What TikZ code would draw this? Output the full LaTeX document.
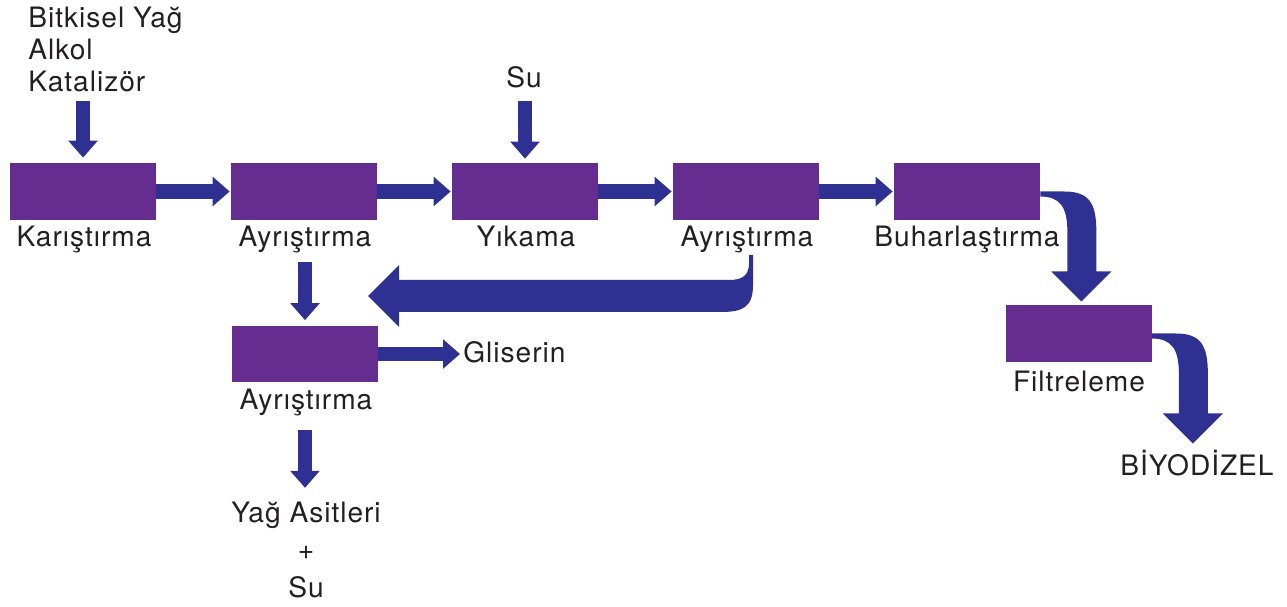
\documentclass[tikz,border=0pt]{standalone}
\usepackage{fontspec}
\setmainfont{TeX Gyre Heros}[LetterSpace=3.5]
\usetikzlibrary{arrows.meta}
\usetikzlibrary{calc}

\definecolor{boxpurple}{RGB}{102,45,145}
\definecolor{flowblue}{RGB}{46,49,146}
\definecolor{labelgray}{RGB}{35,31,32}

\tikzset{
  procbox/.style = {fill = boxpurple, minimum width = 2.92cm,
    minimum height = 1.14cm, inner sep = 0pt},
  lbl/.style = {anchor = base, inner sep = 0pt, text = labelgray,
    font = \fontsize{16}{19}\selectfont},
  flow/.style = {flowblue, line width = .29cm,
    -{Triangle[length = .34cm, width = .57cm]}},
  bendarrow/.pic = {
    \fill[flowblue] (0, 0) -- (24, 0) .. controls (49, 0) and (56, 12) .. (56, 40)
      -- (56, 80) -- (71, 80) -- (41, 110) -- (11, 80) -- (27, 80) -- (27, 40)
      .. controls (27, 16) and (20, 5) .. (0, 5) -- cycle;
  }
}

\begin{document}
\begin{tikzpicture}[x = .02cm, y = -.02cm]
  \useasboundingbox (0, 0) rectangle (1287, 607);

  % process boxes
  \node[procbox] (kar) at (83, 191.5) {};
  \node[procbox] (ayr1) at (304, 191.5) {};
  \node[procbox] (yik) at (525, 191.5) {};
  \node[procbox] (ayr2) at (746, 191.5) {};
  \node[procbox] (buh) at (967, 191.5) {};
  \node[procbox] (ayr3) at (305, 354) {};
  \node[procbox] (fil) at (1078.5, 333.5) {};

  % labels
  \node[lbl, anchor = base west] (in1) at (28, 28) {Bitkisel Yağ};
  \node[lbl, anchor = base west] (in2) at (28, 60) {Alkol};
  \node[lbl, anchor = base west] (in3) at (28, 92) {Katalizör};
  \node[lbl] (su1) at (524, 88) {Su};
  \node[lbl] (karlbl) at (84, 247) {Karıştırma};
  \node[lbl] (ayr1lbl) at (305, 247) {Ayrıştırma};
  \node[lbl] (yiklbl) at (526, 247) {Yıkama};
  \node[lbl] (ayr2lbl) at (747, 247) {Ayrıştırma};
  \node[lbl] (buhlbl) at (967, 247) {Buharlaştırma};
  \node[lbl, anchor = base west] (glis) at (463, 363) {Gliserin};
  \node[lbl] (ayr3lbl) at (306, 410) {Ayrıştırma};
  \node[lbl] (fillbl) at (1079, 392) {Filtreleme};
  \node[lbl] (bio) at (1197, 475) {BİYODİZEL};
  \node[lbl] (yag) at (306, 522) {Yağ Asitleri};
  \node[lbl] (plus) at (306, 559) {+};
  \node[lbl] (su2) at (306, 597) {Su};

  % straight arrows
  \coordinate (feed) at (83, 101);
  \coordinate (water) at (525, 101);
  \draw[flow] (feed) -- ($(kar.north) + (0, -5)$);
  \draw[flow] (water) -- ($(yik.north) + (0, -4)$);
  \draw[flow] (kar.east) -- ($(ayr1.west) + (-1, 0)$);
  \draw[flow] (ayr1.east) -- ($(yik.west) + (-1, 0)$);
  \draw[flow] (yik.east) -- ($(ayr2.west) + (-1, 0)$);
  \draw[flow] (ayr2.east) -- ($(buh.west) + (-1, 0)$);
  \draw[flow] ($(ayr3.north) + (0, -63)$) -- ($(ayr3.north) + (0, -5)$);
  \draw[flow] (ayr3.east) -- ($(ayr3.east -| glis.west) + (-3, 0)$);
  \draw[flow] ($(ayr3.south) + (0, 47)$) -- ($(ayr3.south) + (0, 105)$);

  % return arrow back to the lower separation
  \coordinate (rettail) at (751, 255);
  \coordinate (rethead) at (368, 296);
  \fill[flowblue] ($(rettail) + (-2, 0)$) -- ($(rettail) + (2, 0)$)
    -- ($(rettail) + (2, 30)$)
    .. controls ($(rettail) + (2, 52)$) and ($(rettail) + (-8, 57)$) .. ($(rettail) + (-30, 57)$)
    -- ($(rethead) + (31, 16)$) -- ($(rethead) + (31, 31)$) -- (rethead)
    -- ($(rethead) + (31, -31)$) -- ($(rethead) + (31, -16)$)
    -- ($(rettail) + (-22, 25)$)
    .. controls ($(rettail) + (-8, 25)$) and ($(rettail) + (-2, 20)$) .. ($(rettail) + (-2, 8)$)
    -- cycle;

  % bent arrows on the right
  \pic at (buh.east) {bendarrow};
  \pic at (fil.east) {bendarrow};
\end{tikzpicture}
\end{document}
